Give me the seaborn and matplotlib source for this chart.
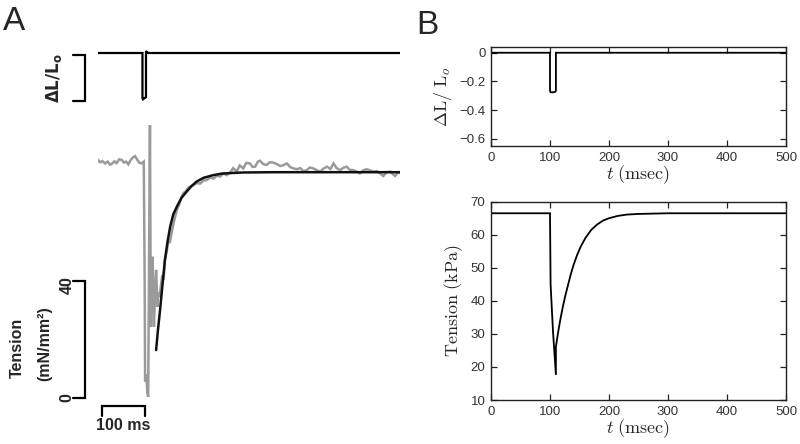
import matplotlib
matplotlib.use('Agg')
import matplotlib.pyplot as plt
import seaborn as sns

a_time = [0, 5, 10, 16, 22, 27, 31, 37, 42, 48, 54, 59, 64, 69, 74, 79, 84, 89, 94, 99,
          104, 106, 107, 110, 112, 114, 118, 120, 122, 124, 127, 130, 132, 135, 137, 140,
          143, 146, 149, 152, 156, 160, 163, 167, 172, 176, 179, 184, 189, 194, 200, 206,
          212, 217, 224, 232, 240, 247, 255, 262, 270, 277, 285, 292, 300, 307, 315, 322,
          330, 337, 345, 351, 357, 363, 368, 376, 383, 390, 398, 406, 414, 421, 429, 437,
          444, 452, 459, 467, 474, 481, 489, 497, 505, 512, 520, 528, 535, 542, 550, 557,
          565, 572, 580, 588, 595, 603, 611, 618, 626, 633, 641, 648, 656, 664, 670, 675,
          680, 685]
a_tension = [81.4, 80.6, 81.0, 80.2, 80.8, 79.8, 80.0, 80.9, 80.3, 81.6, 81.4, 80.5, 80.8,
             79.9, 81.3, 82.2, 82.7, 81.5, 80.4, 80.2, 80.8, 40.0, 5.5, 8.0, 2.0, 0.4, 93.3,
             24.4, 40.0, 48.3, 24.4, 38.0, 43.8, 31.2, 36.0, 34.6, 38.5, 42.0, 40.5, 47.2,
             50.0, 54.0, 53.0, 56.3, 60.0, 62.5, 64.3, 66.0, 68.5, 70.0, 70.8, 72.0, 72.4,
             72.8, 73.5, 73.3, 74.4, 74.5, 75.4, 75.0, 76.0, 75.7, 76.8, 76.2, 77.0, 78.6,
             77.4, 79.5, 78.5, 80.4, 80.2, 79.0, 79.1, 80.8, 81.1, 79.9, 79.7, 80.6, 80.5,
             80.0, 79.3, 79.6, 80.2, 78.9, 78.5, 78.2, 78.6, 77.6, 77.9, 78.8, 78.5, 77.9,
             77.4, 78.4, 79.1, 78.3, 80.2, 78.6, 77.9, 78.7, 79.1, 78.0, 77.9, 77.4, 76.8,
             77.9, 78.2, 77.8, 77.4, 77.6, 76.8, 75.9, 77.2, 77.4, 76.5, 75.9, 76.9, 77.0]

# panel A: fitted recovery
a_fit_time = [132, 136, 141, 146, 152, 158, 164, 171, 179, 190, 201, 212, 224, 240, 262,
              280, 300, 330, 400, 686]
a_fit_tension = [16.4, 23.0, 30.1, 38.0, 47.2, 53.5, 58.6, 62.8, 65.4, 68.5, 70.5, 72.4,
                 74.0, 75.3, 76.2, 76.7, 76.9, 77.1, 77.2, 77.2]

# panel A: length step
a_len_time = [0, 101, 101, 102, 109, 109, 111, 114, 686]
a_len_val = [0, 0, -0.27, -0.278, -0.265, 0.012, 0.006, 0, 0]

# ---- panel B: model ----
b_len_time = [0, 100, 100, 101, 105, 109, 110, 110, 500]
b_len_val = [0, 0, -0.265, -0.275, -0.276, -0.272, -0.265, 0, 0]

b_ten_time = [0, 100, 101, 105, 110, 110, 112, 115, 118, 122, 126, 130, 135, 140, 146,
              152, 160, 170, 180, 190, 200, 215, 230, 250, 275, 300, 350, 400, 500]
b_ten_val = [66.5, 66.5, 45.0, 31.0, 17.6, 26.0, 28.5, 31.8, 34.8, 38.4, 41.6, 44.4, 47.9,
             50.9, 53.9, 56.4, 59.0, 61.5, 63.1, 64.3, 65.0, 65.7, 66.1, 66.3, 66.4, 66.5,
             66.5, 66.5, 66.5]

W, H = 800, 444


def px_rect(x0, y0, x1, y1):
    return [x0 / W, 1 - y1 / H, (x1 - x0) / W, (y1 - y0) / H]


def ftext(x, y, s, **kw):
    fig.text(x / W, 1 - y / H, s, ha='center', va='center', **kw)


sns.set_style('ticks', {'xtick.direction': 'in', 'ytick.direction': 'in'})
plt.rcParams['font.family'] = ['Liberation Sans', 'DejaVu Sans']
plt.rcParams['mathtext.fontset'] = 'cm'
plt.rcParams['lines.solid_joinstyle'] = 'miter'

fig = plt.figure(figsize=(8, 4.44), dpi=100)

# ---- A: length trace ----
ax_al = fig.add_axes(px_rect(98, 45, 400, 105))
sns.lineplot(x=a_len_time, y=a_len_val, ax=ax_al, color='black', lw=1.6,
             estimator=None, sort=False)
ax_al.set_xlim(0, 686)
ax_al.set_ylim(-0.312, 0.048)
ax_al.axis('off')
ax_al.plot([-56.8, -29.5, -29.5, -56.8], [-0.012, -0.012, -0.288, -0.288],
           color='black', lw=1.6, clip_on=False)

# ---- A: tension ----
ax_at = fig.add_axes(px_rect(98, 117.2, 400, 403.9))
sns.lineplot(x=a_time, y=a_tension, ax=ax_at, color='#9a9a9a', lw=1.8,
             estimator=None, sort=False)
sns.lineplot(x=a_fit_time, y=a_fit_tension, ax=ax_at, color='#111111', lw=1.8,
             estimator=None, sort=False)
ax_at.set_xlim(0, 686)
ax_at.set_ylim(-2, 96)
ax_at.axis('off')
ax_at.plot([-56.8, -29.5, -29.5, -56.8], [40, 40, 0, 0], color='black', lw=1.6,
           clip_on=False)
ax_at.plot([8, 8, 106, 106], [-6.0, -2.6, -2.6, -6.0], color='black', lw=1.6,
           clip_on=False)

bold = dict(fontweight='bold', fontsize=11.5)
ftext(14, 22, 'A', fontsize=24)
ftext(54, 78, r'$\mathbf{\Delta L/L_o}$', rotation=90, fontsize=12,
      math_fontfamily='dejavusans')
ftext(17, 348, 'Tension', rotation=90, **bold)
ftext(45, 344, '(mN/mm²)', rotation=90, **bold)
ftext(67, 285, '40', rotation=90, **bold)
ftext(67, 398, '0', rotation=90, **bold)
ftext(123, 425, '100 ms', **bold)

# ---- B ----
ftext(427, 25, 'B', fontsize=24)


def matlab_axes(ax):
    for s in ax.spines.values():
        s.set_visible(True)
        s.set_linewidth(1.0)
        s.set_color('#222222')
    ax.xaxis.set_ticks_position('both')
    ax.yaxis.set_ticks_position('both')
    ax.tick_params(axis='both', which='major', direction='in', length=4, width=0.9,
                   labelsize=9.5, labelcolor='#333333', color='#222222', pad=4,
                   labelbottom=True, labelleft=True, labeltop=False, labelright=False)


ax_bl = fig.add_axes(px_rect(491, 47, 786, 146))
sns.lineplot(x=b_len_time, y=b_len_val, ax=ax_bl, color='black', lw=1.3,
             estimator=None, sort=False)
ax_bl.set_xlim(0, 500)
ax_bl.set_ylim(-0.65, 0.04)
ax_bl.set_xticks([0, 100, 200, 300, 400, 500])
ax_bl.set_yticks([-0.6, -0.4, -0.2, 0])
ax_bl.set_yticklabels(['\u22120.6', '\u22120.4', '\u22120.2', '0'])
ax_bl.set_xlabel(r'$t\ \mathrm{(msec)}$', fontsize=13, labelpad=0)
ax_bl.set_ylabel(r'$\Delta\mathrm{L}/\ \mathrm{L}_o$', fontsize=13, labelpad=4)
matlab_axes(ax_bl)

ax_bt = fig.add_axes(px_rect(491, 201.7, 786, 400))
sns.lineplot(x=b_ten_time, y=b_ten_val, ax=ax_bt, color='black', lw=1.3,
             estimator=None, sort=False)
ax_bt.set_xlim(0, 500)
ax_bt.set_ylim(10, 70)
ax_bt.set_xticks([0, 100, 200, 300, 400, 500])
ax_bt.set_yticks([10, 20, 30, 40, 50, 60, 70])
ax_bt.set_xlabel(r'$t\ \mathrm{(msec)}$', fontsize=13, labelpad=0)
ax_bt.set_ylabel(r'$\mathrm{Tension\ (kPa)}$', fontsize=13, labelpad=4)
matlab_axes(ax_bt)

fig.savefig('out.png', dpi=100)
